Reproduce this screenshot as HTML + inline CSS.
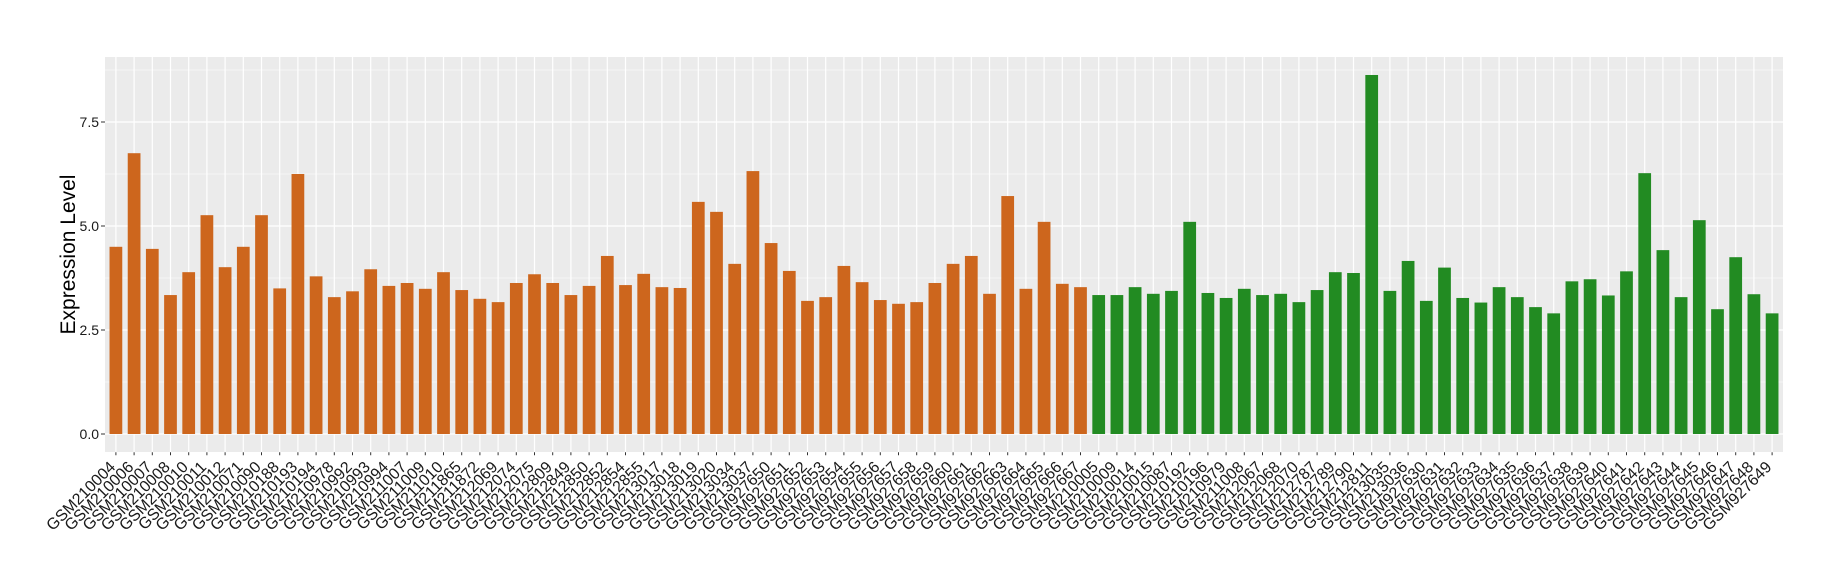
<!DOCTYPE html>
<html><head><meta charset="utf-8"><style>
html,body{margin:0;padding:0;background:#fff;}
svg text{font-family:"Liberation Sans",Arial,sans-serif;}
</style></head><body>
<svg width="1840" height="580" viewBox="0 0 1840 580" xmlns="http://www.w3.org/2000/svg">
<rect x="105" y="57" width="1678" height="395" fill="#EBEBEB"/>
<g stroke="#fff" stroke-width="0.6">
<line x1="105" x2="1783" y1="382" y2="382"/><line x1="105" x2="1783" y1="278" y2="278"/><line x1="105" x2="1783" y1="174" y2="174"/><line x1="105" x2="1783" y1="70" y2="70"/>
</g>
<g stroke="#fff" stroke-width="1.2">
<line x1="105" x2="1783" y1="434" y2="434"/><line x1="105" x2="1783" y1="330" y2="330"/><line x1="105" x2="1783" y1="226" y2="226"/><line x1="105" x2="1783" y1="122" y2="122"/>
</g>
<g transform="translate(115.9,434) scale(18.2,-41.6)">
<g stroke="#fff" stroke-width="1.2" vector-effect="non-scaling-stroke">
<path vector-effect="non-scaling-stroke" d="M0 -0.44V9.07M1 -0.44V9.07M2 -0.44V9.07M3 -0.44V9.07M4 -0.44V9.07M5 -0.44V9.07M6 -0.44V9.07M7 -0.44V9.07M8 -0.44V9.07M9 -0.44V9.07M10 -0.44V9.07M11 -0.44V9.07M12 -0.44V9.07M13 -0.44V9.07M14 -0.44V9.07M15 -0.44V9.07M16 -0.44V9.07M17 -0.44V9.07M18 -0.44V9.07M19 -0.44V9.07M20 -0.44V9.07M21 -0.44V9.07M22 -0.44V9.07M23 -0.44V9.07M24 -0.44V9.07M25 -0.44V9.07M26 -0.44V9.07M27 -0.44V9.07M28 -0.44V9.07M29 -0.44V9.07M30 -0.44V9.07M31 -0.44V9.07M32 -0.44V9.07M33 -0.44V9.07M34 -0.44V9.07M35 -0.44V9.07M36 -0.44V9.07M37 -0.44V9.07M38 -0.44V9.07M39 -0.44V9.07M40 -0.44V9.07M41 -0.44V9.07M42 -0.44V9.07M43 -0.44V9.07M44 -0.44V9.07M45 -0.44V9.07M46 -0.44V9.07M47 -0.44V9.07M48 -0.44V9.07M49 -0.44V9.07M50 -0.44V9.07M51 -0.44V9.07M52 -0.44V9.07M53 -0.44V9.07M54 -0.44V9.07M55 -0.44V9.07M56 -0.44V9.07M57 -0.44V9.07M58 -0.44V9.07M59 -0.44V9.07M60 -0.44V9.07M61 -0.44V9.07M62 -0.44V9.07M63 -0.44V9.07M64 -0.44V9.07M65 -0.44V9.07M66 -0.44V9.07M67 -0.44V9.07M68 -0.44V9.07M69 -0.44V9.07M70 -0.44V9.07M71 -0.44V9.07M72 -0.44V9.07M73 -0.44V9.07M74 -0.44V9.07M75 -0.44V9.07M76 -0.44V9.07M77 -0.44V9.07M78 -0.44V9.07M79 -0.44V9.07M80 -0.44V9.07M81 -0.44V9.07M82 -0.44V9.07M83 -0.44V9.07M84 -0.44V9.07M85 -0.44V9.07M86 -0.44V9.07M87 -0.44V9.07M88 -0.44V9.07M89 -0.44V9.07M90 -0.44V9.07M91 -0.44V9.07"/>
</g>
<g fill="#CD661D">
<rect x="-0.35" width="0.7" y="0" height="4.50"/><rect x="0.65" width="0.7" y="0" height="6.75"/><rect x="1.65" width="0.7" y="0" height="4.45"/><rect x="2.65" width="0.7" y="0" height="3.34"/><rect x="3.65" width="0.7" y="0" height="3.89"/><rect x="4.65" width="0.7" y="0" height="5.26"/><rect x="5.65" width="0.7" y="0" height="4.01"/><rect x="6.65" width="0.7" y="0" height="4.50"/><rect x="7.65" width="0.7" y="0" height="5.26"/><rect x="8.65" width="0.7" y="0" height="3.50"/><rect x="9.65" width="0.7" y="0" height="6.25"/><rect x="10.65" width="0.7" y="0" height="3.79"/><rect x="11.65" width="0.7" y="0" height="3.29"/><rect x="12.65" width="0.7" y="0" height="3.43"/><rect x="13.65" width="0.7" y="0" height="3.96"/><rect x="14.65" width="0.7" y="0" height="3.56"/><rect x="15.65" width="0.7" y="0" height="3.63"/><rect x="16.65" width="0.7" y="0" height="3.49"/><rect x="17.65" width="0.7" y="0" height="3.89"/><rect x="18.65" width="0.7" y="0" height="3.46"/><rect x="19.65" width="0.7" y="0" height="3.25"/><rect x="20.65" width="0.7" y="0" height="3.17"/><rect x="21.65" width="0.7" y="0" height="3.63"/><rect x="22.65" width="0.7" y="0" height="3.84"/><rect x="23.65" width="0.7" y="0" height="3.63"/><rect x="24.65" width="0.7" y="0" height="3.34"/><rect x="25.65" width="0.7" y="0" height="3.56"/><rect x="26.65" width="0.7" y="0" height="4.28"/><rect x="27.65" width="0.7" y="0" height="3.58"/><rect x="28.65" width="0.7" y="0" height="3.85"/><rect x="29.65" width="0.7" y="0" height="3.53"/><rect x="30.65" width="0.7" y="0" height="3.51"/><rect x="31.65" width="0.7" y="0" height="5.58"/><rect x="32.65" width="0.7" y="0" height="5.34"/><rect x="33.65" width="0.7" y="0" height="4.09"/><rect x="34.65" width="0.7" y="0" height="6.32"/><rect x="35.65" width="0.7" y="0" height="4.59"/><rect x="36.65" width="0.7" y="0" height="3.92"/><rect x="37.65" width="0.7" y="0" height="3.20"/><rect x="38.65" width="0.7" y="0" height="3.29"/><rect x="39.65" width="0.7" y="0" height="4.04"/><rect x="40.65" width="0.7" y="0" height="3.65"/><rect x="41.65" width="0.7" y="0" height="3.22"/><rect x="42.65" width="0.7" y="0" height="3.13"/><rect x="43.65" width="0.7" y="0" height="3.17"/><rect x="44.65" width="0.7" y="0" height="3.63"/><rect x="45.65" width="0.7" y="0" height="4.09"/><rect x="46.65" width="0.7" y="0" height="4.28"/><rect x="47.65" width="0.7" y="0" height="3.37"/><rect x="48.65" width="0.7" y="0" height="5.72"/><rect x="49.65" width="0.7" y="0" height="3.49"/><rect x="50.65" width="0.7" y="0" height="5.10"/><rect x="51.65" width="0.7" y="0" height="3.61"/><rect x="52.65" width="0.7" y="0" height="3.53"/>
</g>
<g fill="#228B22">
<rect x="53.65" width="0.7" y="0" height="3.34"/><rect x="54.65" width="0.7" y="0" height="3.34"/><rect x="55.65" width="0.7" y="0" height="3.53"/><rect x="56.65" width="0.7" y="0" height="3.37"/><rect x="57.65" width="0.7" y="0" height="3.44"/><rect x="58.65" width="0.7" y="0" height="5.10"/><rect x="59.65" width="0.7" y="0" height="3.39"/><rect x="60.65" width="0.7" y="0" height="3.27"/><rect x="61.65" width="0.7" y="0" height="3.49"/><rect x="62.65" width="0.7" y="0" height="3.34"/><rect x="63.65" width="0.7" y="0" height="3.37"/><rect x="64.65" width="0.7" y="0" height="3.17"/><rect x="65.65" width="0.7" y="0" height="3.46"/><rect x="66.65" width="0.7" y="0" height="3.89"/><rect x="67.65" width="0.7" y="0" height="3.87"/><rect x="68.65" width="0.7" y="0" height="8.63"/><rect x="69.65" width="0.7" y="0" height="3.44"/><rect x="70.65" width="0.7" y="0" height="4.16"/><rect x="71.65" width="0.7" y="0" height="3.20"/><rect x="72.65" width="0.7" y="0" height="4.00"/><rect x="73.65" width="0.7" y="0" height="3.27"/><rect x="74.65" width="0.7" y="0" height="3.16"/><rect x="75.65" width="0.7" y="0" height="3.53"/><rect x="76.65" width="0.7" y="0" height="3.29"/><rect x="77.65" width="0.7" y="0" height="3.05"/><rect x="78.65" width="0.7" y="0" height="2.90"/><rect x="79.65" width="0.7" y="0" height="3.67"/><rect x="80.65" width="0.7" y="0" height="3.72"/><rect x="81.65" width="0.7" y="0" height="3.33"/><rect x="82.65" width="0.7" y="0" height="3.91"/><rect x="83.65" width="0.7" y="0" height="6.27"/><rect x="84.65" width="0.7" y="0" height="4.42"/><rect x="85.65" width="0.7" y="0" height="3.29"/><rect x="86.65" width="0.7" y="0" height="5.14"/><rect x="87.65" width="0.7" y="0" height="3.00"/><rect x="88.65" width="0.7" y="0" height="4.25"/><rect x="89.65" width="0.7" y="0" height="3.36"/><rect x="90.65" width="0.7" y="0" height="2.90"/>
</g>
<path vector-effect="non-scaling-stroke" stroke="#333" stroke-width="1" d="M0 -0.44V-0.51M1 -0.44V-0.51M2 -0.44V-0.51M3 -0.44V-0.51M4 -0.44V-0.51M5 -0.44V-0.51M6 -0.44V-0.51M7 -0.44V-0.51M8 -0.44V-0.51M9 -0.44V-0.51M10 -0.44V-0.51M11 -0.44V-0.51M12 -0.44V-0.51M13 -0.44V-0.51M14 -0.44V-0.51M15 -0.44V-0.51M16 -0.44V-0.51M17 -0.44V-0.51M18 -0.44V-0.51M19 -0.44V-0.51M20 -0.44V-0.51M21 -0.44V-0.51M22 -0.44V-0.51M23 -0.44V-0.51M24 -0.44V-0.51M25 -0.44V-0.51M26 -0.44V-0.51M27 -0.44V-0.51M28 -0.44V-0.51M29 -0.44V-0.51M30 -0.44V-0.51M31 -0.44V-0.51M32 -0.44V-0.51M33 -0.44V-0.51M34 -0.44V-0.51M35 -0.44V-0.51M36 -0.44V-0.51M37 -0.44V-0.51M38 -0.44V-0.51M39 -0.44V-0.51M40 -0.44V-0.51M41 -0.44V-0.51M42 -0.44V-0.51M43 -0.44V-0.51M44 -0.44V-0.51M45 -0.44V-0.51M46 -0.44V-0.51M47 -0.44V-0.51M48 -0.44V-0.51M49 -0.44V-0.51M50 -0.44V-0.51M51 -0.44V-0.51M52 -0.44V-0.51M53 -0.44V-0.51M54 -0.44V-0.51M55 -0.44V-0.51M56 -0.44V-0.51M57 -0.44V-0.51M58 -0.44V-0.51M59 -0.44V-0.51M60 -0.44V-0.51M61 -0.44V-0.51M62 -0.44V-0.51M63 -0.44V-0.51M64 -0.44V-0.51M65 -0.44V-0.51M66 -0.44V-0.51M67 -0.44V-0.51M68 -0.44V-0.51M69 -0.44V-0.51M70 -0.44V-0.51M71 -0.44V-0.51M72 -0.44V-0.51M73 -0.44V-0.51M74 -0.44V-0.51M75 -0.44V-0.51M76 -0.44V-0.51M77 -0.44V-0.51M78 -0.44V-0.51M79 -0.44V-0.51M80 -0.44V-0.51M81 -0.44V-0.51M82 -0.44V-0.51M83 -0.44V-0.51M84 -0.44V-0.51M85 -0.44V-0.51M86 -0.44V-0.51M87 -0.44V-0.51M88 -0.44V-0.51M89 -0.44V-0.51M90 -0.44V-0.51M91 -0.44V-0.51"/>
</g>
<g stroke="#333" stroke-width="1"><line x1="101" x2="105" y1="434" y2="434"/><line x1="101" x2="105" y1="330" y2="330"/><line x1="101" x2="105" y1="226" y2="226"/><line x1="101" x2="105" y1="122" y2="122"/></g>
<g font-size="14" fill="#1a1a1a" text-anchor="end">
<text x="99" y="439">0.0</text><text x="99" y="335">2.5</text><text x="99" y="231">5.0</text><text x="99" y="127">7.5</text>
</g>
<text transform="translate(75,254.5) rotate(-90)" text-anchor="middle" font-size="21" fill="#000">Expression Level</text>
<g transform="translate(116.3,0)" font-size="16" fill="#1a1a1a" text-anchor="end">
<text transform="translate(0,468) rotate(-45)">GSM210004</text>
<text transform="translate(18.2,468) rotate(-45)">GSM210006</text>
<text transform="translate(36.4,468) rotate(-45)">GSM210007</text>
<text transform="translate(54.6,468) rotate(-45)">GSM210008</text>
<text transform="translate(72.8,468) rotate(-45)">GSM210010</text>
<text transform="translate(91,468) rotate(-45)">GSM210011</text>
<text transform="translate(109.2,468) rotate(-45)">GSM210012</text>
<text transform="translate(127.4,468) rotate(-45)">GSM210071</text>
<text transform="translate(145.6,468) rotate(-45)">GSM210090</text>
<text transform="translate(163.8,468) rotate(-45)">GSM210188</text>
<text transform="translate(182,468) rotate(-45)">GSM210193</text>
<text transform="translate(200.2,468) rotate(-45)">GSM210194</text>
<text transform="translate(218.4,468) rotate(-45)">GSM210978</text>
<text transform="translate(236.6,468) rotate(-45)">GSM210992</text>
<text transform="translate(254.8,468) rotate(-45)">GSM210993</text>
<text transform="translate(273,468) rotate(-45)">GSM210994</text>
<text transform="translate(291.2,468) rotate(-45)">GSM211007</text>
<text transform="translate(309.4,468) rotate(-45)">GSM211009</text>
<text transform="translate(327.6,468) rotate(-45)">GSM211010</text>
<text transform="translate(345.8,468) rotate(-45)">GSM211865</text>
<text transform="translate(364,468) rotate(-45)">GSM211872</text>
<text transform="translate(382.2,468) rotate(-45)">GSM212069</text>
<text transform="translate(400.4,468) rotate(-45)">GSM212074</text>
<text transform="translate(418.6,468) rotate(-45)">GSM212075</text>
<text transform="translate(436.8,468) rotate(-45)">GSM212809</text>
<text transform="translate(455,468) rotate(-45)">GSM212849</text>
<text transform="translate(473.2,468) rotate(-45)">GSM212850</text>
<text transform="translate(491.4,468) rotate(-45)">GSM212852</text>
<text transform="translate(509.6,468) rotate(-45)">GSM212854</text>
<text transform="translate(527.8,468) rotate(-45)">GSM212855</text>
<text transform="translate(546,468) rotate(-45)">GSM213017</text>
<text transform="translate(564.2,468) rotate(-45)">GSM213018</text>
<text transform="translate(582.4,468) rotate(-45)">GSM213019</text>
<text transform="translate(600.6,468) rotate(-45)">GSM213020</text>
<text transform="translate(618.8,468) rotate(-45)">GSM213034</text>
<text transform="translate(637,468) rotate(-45)">GSM213037</text>
<text transform="translate(655.2,468) rotate(-45)">GSM927650</text>
<text transform="translate(673.4,468) rotate(-45)">GSM927651</text>
<text transform="translate(691.6,468) rotate(-45)">GSM927652</text>
<text transform="translate(709.8,468) rotate(-45)">GSM927653</text>
<text transform="translate(728,468) rotate(-45)">GSM927654</text>
<text transform="translate(746.2,468) rotate(-45)">GSM927655</text>
<text transform="translate(764.4,468) rotate(-45)">GSM927656</text>
<text transform="translate(782.6,468) rotate(-45)">GSM927657</text>
<text transform="translate(800.8,468) rotate(-45)">GSM927658</text>
<text transform="translate(819,468) rotate(-45)">GSM927659</text>
<text transform="translate(837.2,468) rotate(-45)">GSM927660</text>
<text transform="translate(855.4,468) rotate(-45)">GSM927661</text>
<text transform="translate(873.6,468) rotate(-45)">GSM927662</text>
<text transform="translate(891.8,468) rotate(-45)">GSM927663</text>
<text transform="translate(910,468) rotate(-45)">GSM927664</text>
<text transform="translate(928.2,468) rotate(-45)">GSM927665</text>
<text transform="translate(946.4,468) rotate(-45)">GSM927666</text>
<text transform="translate(964.6,468) rotate(-45)">GSM927667</text>
<text transform="translate(982.8,468) rotate(-45)">GSM210005</text>
<text transform="translate(1001,468) rotate(-45)">GSM210009</text>
<text transform="translate(1019.2,468) rotate(-45)">GSM210014</text>
<text transform="translate(1037.4,468) rotate(-45)">GSM210015</text>
<text transform="translate(1055.6,468) rotate(-45)">GSM210087</text>
<text transform="translate(1073.8,468) rotate(-45)">GSM210192</text>
<text transform="translate(1092,468) rotate(-45)">GSM210196</text>
<text transform="translate(1110.2,468) rotate(-45)">GSM210979</text>
<text transform="translate(1128.4,468) rotate(-45)">GSM211008</text>
<text transform="translate(1146.6,468) rotate(-45)">GSM212067</text>
<text transform="translate(1164.8,468) rotate(-45)">GSM212068</text>
<text transform="translate(1183,468) rotate(-45)">GSM212070</text>
<text transform="translate(1201.2,468) rotate(-45)">GSM212787</text>
<text transform="translate(1219.4,468) rotate(-45)">GSM212789</text>
<text transform="translate(1237.6,468) rotate(-45)">GSM212790</text>
<text transform="translate(1255.8,468) rotate(-45)">GSM212811</text>
<text transform="translate(1274,468) rotate(-45)">GSM213035</text>
<text transform="translate(1292.2,468) rotate(-45)">GSM213036</text>
<text transform="translate(1310.4,468) rotate(-45)">GSM927630</text>
<text transform="translate(1328.6,468) rotate(-45)">GSM927631</text>
<text transform="translate(1346.8,468) rotate(-45)">GSM927632</text>
<text transform="translate(1365,468) rotate(-45)">GSM927633</text>
<text transform="translate(1383.2,468) rotate(-45)">GSM927634</text>
<text transform="translate(1401.4,468) rotate(-45)">GSM927635</text>
<text transform="translate(1419.6,468) rotate(-45)">GSM927636</text>
<text transform="translate(1437.8,468) rotate(-45)">GSM927637</text>
<text transform="translate(1456,468) rotate(-45)">GSM927638</text>
<text transform="translate(1474.2,468) rotate(-45)">GSM927639</text>
<text transform="translate(1492.4,468) rotate(-45)">GSM927640</text>
<text transform="translate(1510.6,468) rotate(-45)">GSM927641</text>
<text transform="translate(1528.8,468) rotate(-45)">GSM927642</text>
<text transform="translate(1547,468) rotate(-45)">GSM927643</text>
<text transform="translate(1565.2,468) rotate(-45)">GSM927644</text>
<text transform="translate(1583.4,468) rotate(-45)">GSM927645</text>
<text transform="translate(1601.6,468) rotate(-45)">GSM927646</text>
<text transform="translate(1619.8,468) rotate(-45)">GSM927647</text>
<text transform="translate(1638,468) rotate(-45)">GSM927648</text>
<text transform="translate(1656.2,468) rotate(-45)">GSM927649</text>
</g>
</svg>
</body></html>
